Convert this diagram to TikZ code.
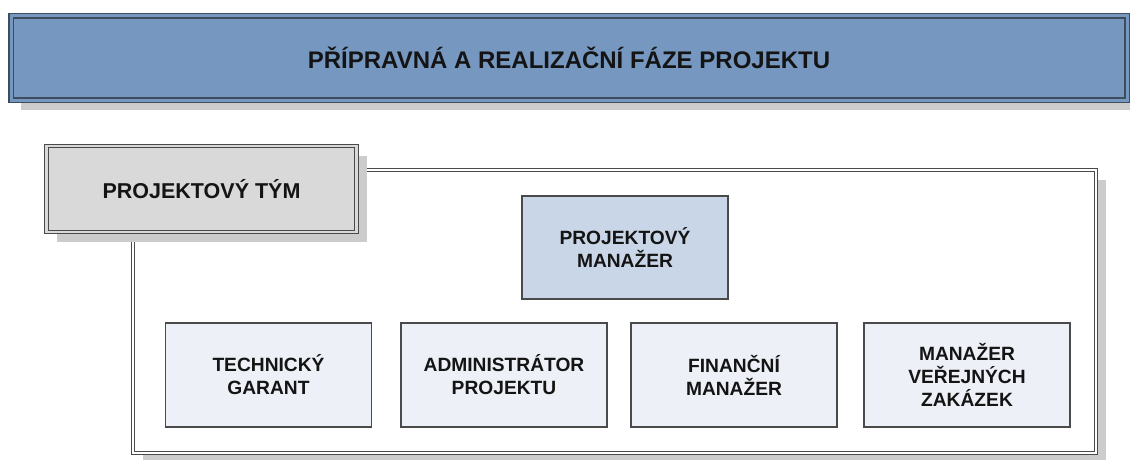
\documentclass[tikz,border=0pt]{standalone}
\usepackage{fontspec}
\setmainfont{Liberation Sans}
\usetikzlibrary{shadows}
\definecolor{titlefill}{HTML}{7597C0}
\definecolor{titleline}{HTML}{3E4C5E}
\definecolor{teamfill}{HTML}{D9D9D9}
\definecolor{pmfill}{HTML}{C9D6E7}
\definecolor{rolefill}{HTML}{EDF0F6}
\definecolor{boxline}{HTML}{4A4A4A}
\definecolor{shadowgray}{HTML}{CCCCCC}
\definecolor{txt}{HTML}{141414}
\begin{document}
\begin{tikzpicture}[x=1pt,y=-1pt,
  shadowed/.style={drop shadow={shadow xshift=10pt,shadow yshift=-10pt,fill=shadowgray,opacity=1}},
  titlebox/.style={draw=titleline,line width=1.4pt,double=titlefill,double distance=3pt,fill=titlefill,shadowed,
    minimum width=1116pt,minimum height=84pt,inner sep=0pt,text=txt,font=\bfseries\fontsize{24}{28}\selectfont},
  teambox/.style={draw=boxline,line width=1.1pt,double=teamfill,double distance=2.5pt,fill=teamfill,shadowed,
    minimum width=310pt,minimum height=86pt,inner sep=0pt,text=txt,font=\bfseries\fontsize{21.5}{25}\selectfont},
  container/.style={draw=boxline,line width=1pt,double=white,double distance=2pt,fill=white,shadowed,
    minimum width=963pt,minimum height=283pt,inner sep=0pt},
  rolebox/.style={draw=boxline,line width=1.1pt,fill=rolefill,minimum width=206pt,minimum height=104pt,
    inner sep=0pt,align=center,text=txt,font=\bfseries\fontsize{19.2}{23}\selectfont},
  pmbox/.style={rolebox,fill=pmfill,minimum height=103pt}
]
\useasboundingbox (0,0) rectangle (1130,460);
\node[titlebox] (title) at (569,58) {PŘÍPRAVNÁ A REALIZAČNÍ FÁZE PROJEKTU};
\node[container] (tym) at (614,311.5) {};
\node[teambox] (teamlabel) at (201.5,189) {PROJEKTOVÝ TÝM};
\node[pmbox] (pm) at (625,247.5) {PROJEKTOVÝ\\MANAŽER};
\node[rolebox] (tg) at (268.5,375) {TECHNICKÝ\\GARANT};
\node[rolebox] (ap) at (504,375) {ADMINISTRÁTOR\\PROJEKTU};
\node[rolebox] (fm) at (734,375) {FINANČNÍ\\MANAŽER};
\node[rolebox] (mvz) at (967,375) {MANAŽER\\VEŘEJNÝCH\\ZAKÁZEK};
\end{tikzpicture}
\end{document}
